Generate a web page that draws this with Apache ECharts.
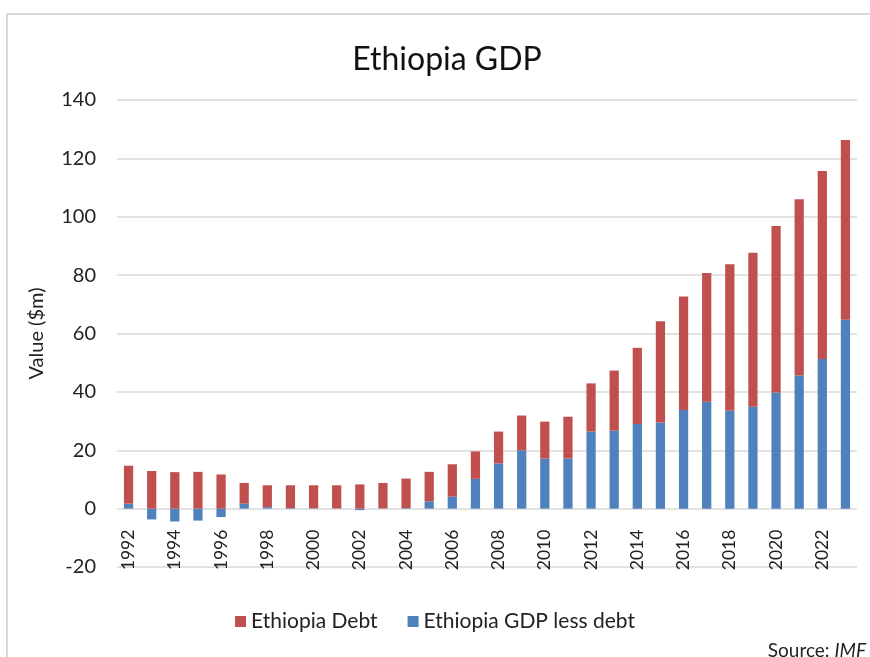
<!DOCTYPE html>
<html><head><meta charset="utf-8">
<script src="https://cdn.jsdelivr.net/npm/echarts@6/dist/echarts.min.js"></script>
<style>html,body{margin:0;padding:0;background:#fff}#c{width:870px;height:657px}</style>
</head><body><div id="c"></div>
<script>
var years = ['1992','1993','1994','1995','1996','1997','1998','1999','2000','2001','2002','2003','2004','2005','2006','2007','2008','2009','2010','2011','2012','2013','2014','2015','2016','2017','2018','2019','2020','2021','2022','2023'];
var gdpLessDebt = [1.7,-3.7,-4.4,-4.1,-2.9,1.7,0.5,0.2,0.1,0.1,-0.5,0.1,0.2,2.5,4.1,10.2,15.5,20.0,17.2,17.2,26.4,26.7,29.0,29.5,33.8,36.6,33.5,34.9,39.8,45.6,51.3,64.7];
var debt = [13.0,12.9,12.5,12.6,11.7,7.1,7.5,7.8,7.9,7.9,8.3,8.7,10.1,10.1,11.1,9.4,10.9,11.9,12.6,14.3,16.5,20.6,26.1,34.7,38.9,44.1,50.2,52.8,57.0,60.4,64.4,61.6];
var yTicks = {min:-20, max:140, interval:20};

var font = 'Lato, "Open Sans", sans-serif';
var gridTop = 100, gridBottom = 90, H = 657;
var plotH = H - gridTop - gridBottom;
var zeroOffset = -plotH * (0 - yTicks.min) / (yTicks.max - yTicks.min);
var chart = echarts.init(document.getElementById('c'));
chart.setOption({
  animation:false,
  backgroundColor:'#fff',
  title:{text:'Ethiopia GDP', left:442, top:39, textAlign:'center',
    textStyle:{fontFamily:font, fontSize:32, fontWeight:'normal', color:'#111'}},
  legend:{data:['Ethiopia Debt','Ethiopia GDP less debt'], top:606, left:'center',
    itemWidth:11, itemHeight:11, itemGap:30, icon:'rect',
    textStyle:{fontFamily:font, fontSize:21, color:'#222'}},
  grid:{left:117, right:13, top:gridTop, bottom:gridBottom, containLabel:false},
  xAxis:{type:'category', data:years, position:'bottom', offset:zeroOffset,
    axisLine:{show:false, onZero:false}, axisTick:{show:false},
    axisLabel:{interval:1, rotate:90, fontFamily:font, fontSize:17.5, color:'#222', margin:21}},
  yAxis:{type:'value', min:yTicks.min, max:yTicks.max, interval:yTicks.interval,
    name:'Value ($m)', nameLocation:'middle', nameGap:70, nameRotate:90,
    nameTextStyle:{fontFamily:font, fontSize:20, color:'#222'},
    axisLabel:{fontFamily:font, fontSize:20, color:'#222', margin:21},
    splitLine:{lineStyle:{color:'#d9d9d9', width:1.5}},
    axisLine:{show:false}, axisTick:{show:false}},
  series:[
    {name:'Ethiopia GDP less debt', type:'bar', stack:'s', data:gdpLessDebt, barWidth:'40%',
      itemStyle:{color:'#4F81BD'}},
    {name:'Ethiopia Debt', type:'bar', stack:'s', data:debt, barWidth:'40%',
      itemStyle:{color:'#C0504D'}}
  ],
  graphic:[
    {type:'polyline', shape:{points:[[7,700],[7,14],[900,14]]}, style:{stroke:'#d9d9d9', lineWidth:2, fill:null}},
    {type:'text', right:4, top:641, style:{text:'{a|Source: }{b|IMF}',
      rich:{a:{fontFamily:font, fontSize:19, fill:'#222'}, b:{fontFamily:font, fontSize:19, fontStyle:'italic', fill:'#222'}}}}
  ]
});
</script></body></html>
